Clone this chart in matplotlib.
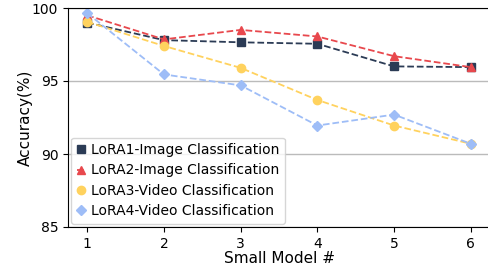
import matplotlib

matplotlib.use("Agg")

import matplotlib.pyplot as plt

models = [1, 2, 3, 4, 5, 6]
lora1_image = [99.0, 97.8, 97.65, 97.55, 96.0, 95.95]
lora2_image = [99.5, 97.85, 98.5, 98.05, 96.7, 95.95]
lora3_video = [99.05, 97.4, 95.9, 93.7, 91.95, 90.7]
lora4_video = [99.65, 95.45, 94.7, 91.95, 92.7, 90.7]

labels = [
    "LoRA1-Image Classification",
    "LoRA2-Image Classification",
    "LoRA3-Video Classification",
    "LoRA4-Video Classification",
]
styles = [
    ("#2b3b55", "s"),
    ("#e8484d", "^"),
    ("#ffd25e", "o"),
    ("#9ebdf7", "D"),
]

fig = plt.figure(figsize=(4.88, 2.72), dpi=100)
ax = fig.add_axes([68 / 488, 1 - 227 / 272, 422 / 488, 219 / 272])

for ys, label, (color, marker) in zip(
    [lora1_image, lora2_image, lora3_video, lora4_video], labels, styles
):
    ax.plot(models, ys, linestyle="--", color=color, marker=marker,
            markersize=6 if marker != "D" else 5.5, linewidth=1.3, label=label)

ax.set_xlim(0.75, 6.25)
ax.set_ylim(85, 100)
ax.set_xticks(models)
ax.set_yticks([85, 90, 95, 100])
ax.yaxis.grid(True, color="#bbbbbb", linewidth=1)
ax.set_axisbelow(True)
ax.spines["right"].set_visible(False)
ax.tick_params(labelsize=10)
ax.set_xlabel("Small Model #", fontsize=11, labelpad=0)
ax.set_ylabel("Accuracy(%)", fontsize=11, labelpad=-1)
ax.legend(loc="lower left", fontsize=10, handlelength=0.6, handletextpad=0.4,
          borderaxespad=0.25, labelspacing=0.45, borderpad=0.4)

fig.savefig("out.png", dpi=100)
